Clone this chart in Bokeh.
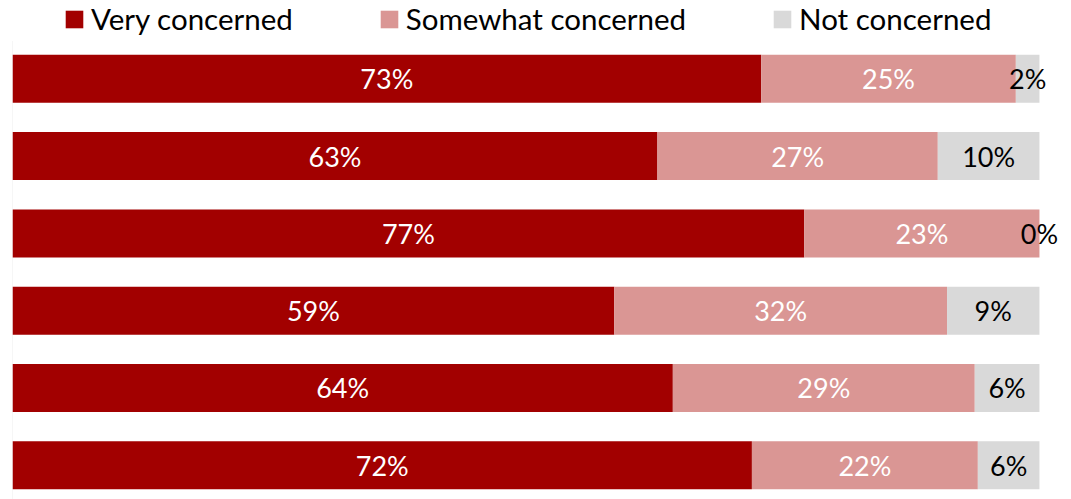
from bokeh.plotting import figure
from bokeh.models import ColumnDataSource, Range1d, Legend
from bokeh.core.properties import value
from bokeh.embed import file_html
from bokeh.resources import INLINE

rows = [0, 1, 2, 3, 4, 5]
series = ["Very concerned", "Somewhat concerned", "Not concerned"]
very = [72.9, 62.8, 77.1, 58.6, 64.3, 72.0]
somewhat = [24.8, 27.3, 22.9, 32.4, 29.4, 22.0]
not_c = [2.3, 9.9, 0.0, 9.0, 6.3, 6.0]
colors = ["#A20000", "#DA9694", "#D9D9D9"]
label_colors = ["white", "white", "black"]

FONT = "Lato"
BAR_H = 0.621

data = dict(row=rows, very=very, somewhat=somewhat, not_c=not_c)
src = ColumnDataSource(data)

p = figure(width=1071, height=499, output_backend="svg", toolbar_location=None,
           x_range=Range1d(0, 103.12), y_range=Range1d(5.443, -1.013),
           x_axis_location=None, y_axis_location=None,
           min_border_left=12, min_border_right=0, min_border_bottom=0, min_border_top=0)
p.grid.visible = False
p.outline_line_color = None
p.background_fill_color = "white"
p.border_fill_color = "white"

# left axis line (category band extent)
p.segment(x0=[-0.1], y0=[rows[0] - 0.49], x1=[-0.1], y1=[rows[-1] + 0.5],
          line_color="#D9D9D9", line_width=2)

renderers = p.hbar_stack(["very", "somewhat", "not_c"], y="row", height=BAR_H, color=colors,
                         line_color=None, source=src)

# labels
cum = [0.0] * len(rows)
for vals, col in zip([very, somewhat, not_c], label_colors):
    xs = [c + v / 2 for c, v in zip(cum, vals)]
    cum = [c + v for c, v in zip(cum, vals)]
    labels = [f"{round(v)}%" for v in vals]
    p.text(x=xs, y=rows, text=labels, text_align="center", text_baseline="middle",
           text_color=col, text_font=value(FONT), text_font_size="27px")

legend = Legend(items=[(s, [r]) for s, r in zip(series, renderers)],
                orientation="horizontal", location=(51, 463),
                glyph_width=22, glyph_height=22, label_standoff=6, spacing=85,
                padding=0, margin=0, border_line_color=None, background_fill_alpha=0,
                label_text_font=FONT, label_text_font_size="29.5px", label_text_color="black")
p.add_layout(legend, "center")

open("out.html", "w").write(file_html(p, INLINE))
